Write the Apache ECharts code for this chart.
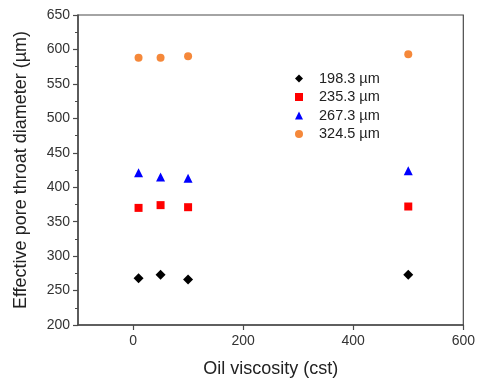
<!DOCTYPE html>
<html><head><meta charset="utf-8">
<script src="https://cdn.jsdelivr.net/npm/echarts@6/dist/echarts.min.js"></script>
<style>html,body{margin:0;padding:0;background:#fff}#c{width:478px;height:383px}</style>
</head><body><div id="c"></div>
<script>
const viscosity = [10, 50, 100, 500];
const seriesNames = ['198.3 µm', '235.3 µm', '267.3 µm', '324.5 µm'];
const s198 = [268, 273, 266, 273];
const s235 = [370, 374, 371, 372];
const s267 = [421, 415, 413, 424];
const s324 = [588, 588, 590, 593];
const xTicks = [0, 200, 400, 600];

const allValues = [s198, s235, s267, s324];
const symbols = ['diamond', 'rect', 'triangle', 'circle'];
const sizes = [10, 8, 9, 8];
const colors = ['#000000', '#ff0000', '#0000ff', '#f5883a'];

const chart = echarts.init(document.getElementById('c'));
const axisColor = '#4a4a4a';
const font = 'Liberation Sans, Arial, sans-serif';
chart.setOption({
  animation: false,
  grid: { left: 78, right: 14, top: 15, bottom: 56, show: true, borderColor: axisColor, borderWidth: 1.2 },
  legend: {
    orient: 'vertical', left: 290, top: 66, itemGap: 3.5, itemWidth: 8, itemHeight: 8,
    textStyle: { fontFamily: font, fontSize: 14.5, color: '#222', padding: [0, 0, 0, 11] },
    data: seriesNames.map((n, i) => ({ name: n, icon: symbols[i] }))
  },
  xAxis: {
    type: 'value', min: -100, max: 600, interval: 200,
    name: 'Oil viscosity (cst)', nameLocation: 'middle', nameGap: 35,
    nameTextStyle: { fontFamily: font, fontSize: 18, color: '#222' },
    axisLine: { show: true, onZero: false, lineStyle: { color: axisColor, width: 1.5 } },
    axisTick: { show: true, inside: false, length: 5, lineStyle: { color: axisColor, width: 1.2 }, customValues: xTicks },
    minorTick: { show: true, splitNumber: 2, length: 3, lineStyle: { color: axisColor } },
    axisLabel: { fontFamily: font, fontSize: 14, color: '#333', margin: 9, customValues: xTicks },
    splitLine: { show: false }
  },
  yAxis: {
    type: 'value', min: 200, max: 650, interval: 50,
    name: 'Effective pore throat diameter (µm)', nameLocation: 'middle', nameGap: 47.5,
    nameTextStyle: { fontFamily: font, fontSize: 18, color: '#222' },
    axisLine: { show: true, onZero: false, lineStyle: { color: axisColor, width: 1.5 } },
    axisTick: { show: true, inside: false, length: 5, lineStyle: { color: axisColor, width: 1.2 } },
    minorTick: { show: true, splitNumber: 2, length: 3, lineStyle: { color: axisColor } },
    axisLabel: { fontFamily: font, fontSize: 14, color: '#333', margin: 8 },
    splitLine: { show: false }
  },
  series: seriesNames.map((n, i) => ({
    name: n, type: 'scatter', symbol: symbols[i], symbolSize: sizes[i],
    itemStyle: { color: colors[i], opacity: 1 },
    data: viscosity.map((v, j) => [v, allValues[i][j]])
  }))
});
</script></body></html>
